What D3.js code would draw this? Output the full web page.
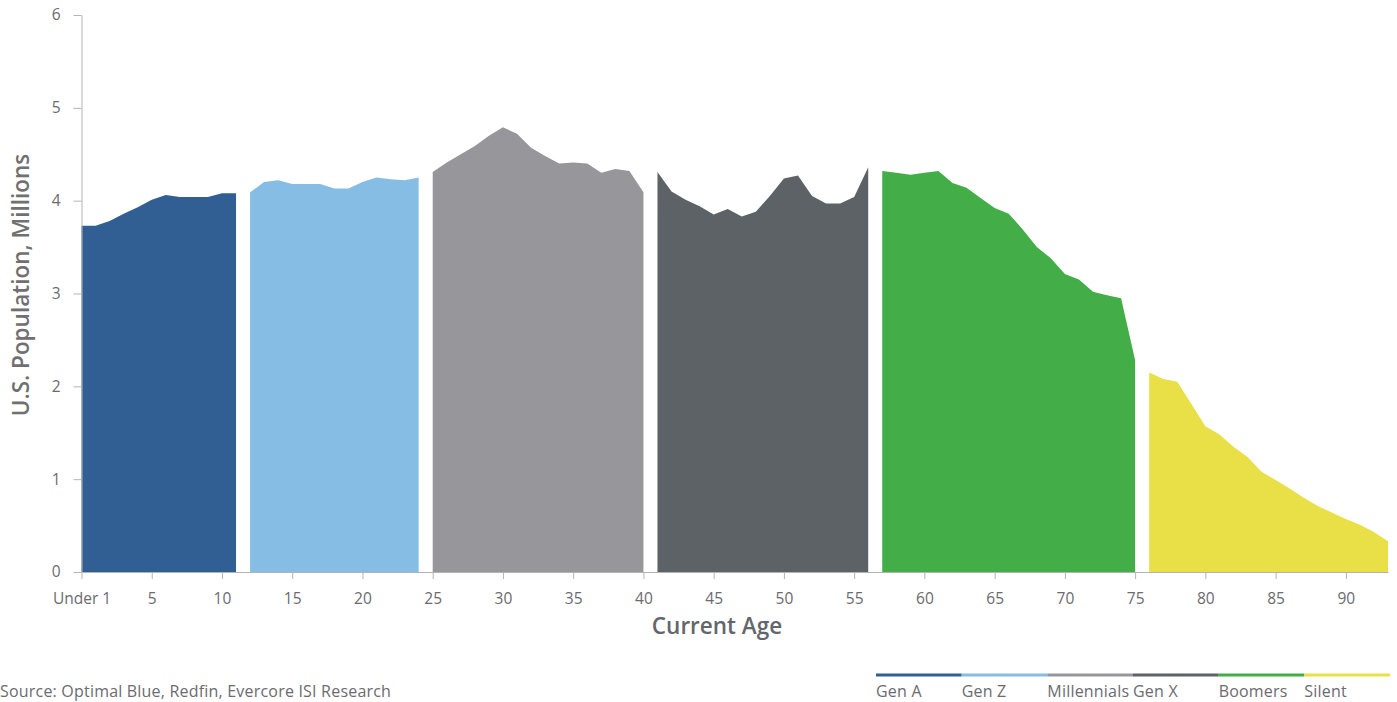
<!DOCTYPE html>
<html>
<head>
  <meta charset="utf-8">
  <title>U.S. population by age</title>
  <script src="https://d3js.org/d3.v7.min.js"></script>
  <style>
    body { margin: 0; background: #fff; font-family: "Open Sans", sans-serif; }
    .axis text { fill: #6b6b70; font-size: 15.5px; font-family: "Open Sans", sans-serif; }
    .axis path, .axis line { stroke: #b3b3b3; }
    .note { fill: #6b6b70; font-size: 16px; letter-spacing: 0.2px; }
  </style>
</head>
<body>
<script>
// generations, colours and ages they span
var generations = ["Gen A", "Gen Z", "Millennials", "Gen X", "Boomers", "Silent"];
var genColors = ["#315f94", "#86bde4", "#97969b", "#5d6266", "#43ae47", "#e9df47"];
var genStartAge = [0, 12, 25, 41, 57, 76];

// population in millions, one value per age, for each generation
var genA = [3.73, 3.73, 3.78, 3.86, 3.93, 4.01, 4.06, 4.04, 4.04, 4.04, 4.08, 4.08];
var genZ = [4.09, 4.20, 4.22, 4.18, 4.18, 4.18, 4.13, 4.13, 4.20, 4.25, 4.23, 4.22, 4.25];
var millennials = [4.31, 4.41, 4.50, 4.59, 4.70, 4.79, 4.72, 4.57, 4.48, 4.40, 4.41, 4.40, 4.30, 4.34, 4.32, 4.09];
var genX = [4.31, 4.10, 4.01, 3.94, 3.85, 3.91, 3.83, 3.88, 4.05, 4.24, 4.27, 4.05, 3.97, 3.97, 4.04, 4.36];
var boomers = [4.32, 4.30, 4.28, 4.30, 4.32, 4.19, 4.14, 4.03, 3.92, 3.86, 3.69, 3.50, 3.38, 3.21, 3.15, 3.02, 2.98, 2.95, 2.28];
var silent = [2.15, 2.08, 2.05, 1.81, 1.57, 1.48, 1.35, 1.24, 1.08, 0.99, 0.90, 0.80, 0.71, 0.64, 0.57, 0.51, 0.43, 0.33];

var xTicks = [0, 5, 10, 15, 20, 25, 30, 35, 40, 45, 50, 55, 60, 65, 70, 75, 80, 85, 90];
var yTicks = [0, 1, 2, 3, 4, 5, 6];

var series = [genA, genZ, millennials, genX, boomers, silent];

var width = 1397, height = 702;

var svg = d3.select("body").append("svg")
  .attr("width", width)
  .attr("height", height);

var x = d3.scaleLinear().domain([0, 93]).range([81.5, 1388]);
var y = d3.scaleLinear().domain([0, 6]).range([572, 15]);

// one area per generation
var area = d3.area()
  .x(function(d) { return x(d.age); })
  .y0(y(0))
  .y1(function(d) { return y(d.value); });

series.forEach(function(vals, i) {
  var pts = vals.map(function(v, j) { return { age: genStartAge[i] + j, value: v }; });
  svg.append("path")
    .datum(pts)
    .attr("fill", genColors[i])
    .attr("d", area);
});

// axes
svg.append("g")
  .attr("class", "axis")
  .attr("transform", "translate(0," + y(0) + ")")
  .call(d3.axisBottom(x)
    .tickValues(xTicks)
    .tickSize(7)
    .tickSizeOuter(0)
    .tickPadding(14)
    .tickFormat(function(d) { return d === 0 ? "Under 1" : d; }));

svg.append("g")
  .attr("class", "axis")
  .attr("transform", "translate(" + x(0) + ",0)")
  .call(d3.axisLeft(y)
    .tickValues(yTicks)
    .tickSize(8)
    .tickSizeOuter(0)
    .tickPadding(13)
    .tickFormat(d3.format("d")));

// axis titles
svg.append("text")
  .attr("transform", "translate(29,285) rotate(-90)")
  .attr("text-anchor", "middle")
  .attr("fill", "#707070")
  .style("font-size", "22.5px")
  .style("font-weight", "600")
  .text("U.S. Population, Millions");

svg.append("text")
  .attr("x", 717)
  .attr("y", 634)
  .attr("text-anchor", "middle")
  .attr("fill", "#63666a")
  .style("font-size", "22.5px")
  .style("font-weight", "600")
  .text("Current Age");

// source note
svg.append("text")
  .attr("class", "note")
  .attr("x", 0)
  .attr("y", 697)
  .text("Source: Optimal Blue, Redfin, Evercore ISI Research");

// legend: coloured line with label underneath
var legendX = d3.scaleBand().domain(generations).range([876, 1390]);

var legend = svg.append("g");
generations.forEach(function(g, i) {
  legend.append("rect")
    .attr("x", legendX(g))
    .attr("y", 673.5)
    .attr("width", legendX.bandwidth())
    .attr("height", 3)
    .attr("fill", genColors[i]);
  legend.append("text")
    .attr("class", "note")
    .attr("x", legendX(g))
    .attr("y", 697)
    .text(g);
});
</script>
</body>
</html>
